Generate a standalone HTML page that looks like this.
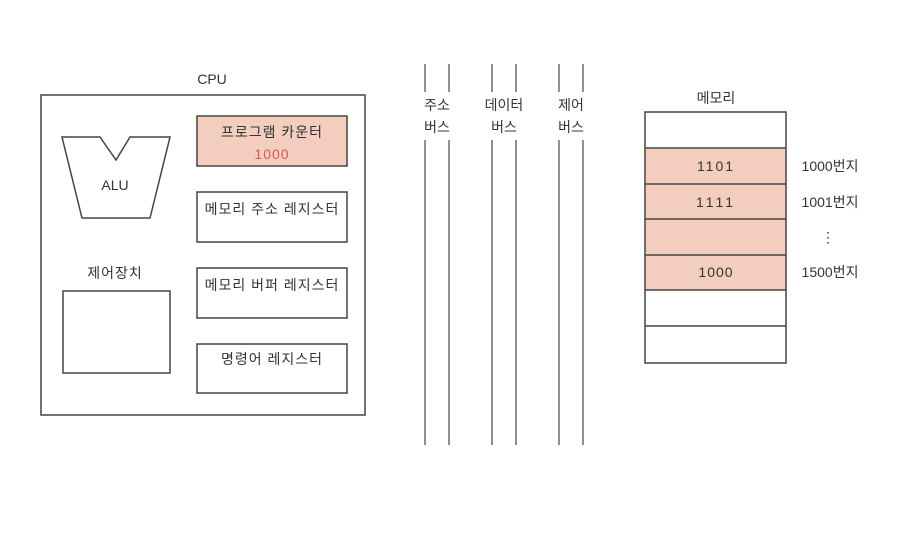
<!DOCTYPE html>
<html><head><meta charset="utf-8"><style>
body{margin:0;background:#fff;}
svg text{font-family:"Liberation Sans","Noto Sans CJK KR",sans-serif;fill:#333;}
</style></head><body>
<svg width="919" height="544" viewBox="0 0 919 544" xmlns="http://www.w3.org/2000/svg">
<g stroke="#444" stroke-width="1.5" fill="none">
<rect x="41" y="95" width="324" height="320" fill="#fff"/>
<rect x="197" y="116" width="150" height="50" fill="#f3cdbd"/>
<rect x="197" y="192" width="150" height="50"/>
<rect x="197" y="268" width="150" height="50"/>
<rect x="197" y="344" width="150" height="49"/>
<polygon points="62,137 100,137 116,160 130,137 170,137 150,218 82,218"/>
<rect x="63" y="291" width="107" height="82"/>
</g>
<g stroke="#555" stroke-width="1.3">
<line x1="425" y1="64" x2="425" y2="92"/><line x1="449" y1="64" x2="449" y2="92"/>
<line x1="492" y1="64" x2="492" y2="92"/><line x1="516" y1="64" x2="516" y2="92"/>
<line x1="559" y1="64" x2="559" y2="92"/><line x1="583" y1="64" x2="583" y2="92"/>
<line x1="425" y1="140" x2="425" y2="445"/><line x1="449" y1="140" x2="449" y2="445"/>
<line x1="492" y1="140" x2="492" y2="445"/><line x1="516" y1="140" x2="516" y2="445"/>
<line x1="559" y1="140" x2="559" y2="445"/><line x1="583" y1="140" x2="583" y2="445"/>
</g>
<rect x="645" y="148" width="141" height="142" fill="#f3cdbd"/>
<g stroke="#444" stroke-width="1.5" fill="none">
<rect x="645" y="112" width="141" height="251"/>
<line x1="645" y1="148" x2="786" y2="148"/><line x1="645" y1="184" x2="786" y2="184"/>
<line x1="645" y1="219" x2="786" y2="219"/><line x1="645" y1="255" x2="786" y2="255"/>
<line x1="645" y1="290" x2="786" y2="290"/><line x1="645" y1="326" x2="786" y2="326"/>
</g>
<g font-size="14" text-anchor="middle">
<text x="212" y="84">CPU</text>
<text x="272" y="137" letter-spacing="1">프로그램 카운터</text>
<text x="272" y="159" style="fill:#d55" letter-spacing="1">1000</text>
<text x="272" y="214" letter-spacing="1">메모리 주소 레지스터</text>
<text x="272" y="290" letter-spacing="1">메모리 버퍼 레지스터</text>
<text x="272" y="364" letter-spacing="1">명령어 레지스터</text>
<text x="115" y="190">ALU</text>
<text x="115" y="278" letter-spacing="1">제어장치</text>
<text x="437" y="110">주소</text><text x="437" y="132">버스</text>
<text x="504" y="110">데이터</text><text x="504" y="132">버스</text>
<text x="571" y="110">제어</text><text x="571" y="132">버스</text>
<text x="716" y="103">메모리</text>
<text x="716" y="171" letter-spacing="2">1101</text>
<text x="716" y="207" letter-spacing="3">1111</text>
<text x="716" y="277" letter-spacing="1">1000</text>
<text x="830" y="171">1000번지</text>
<text x="830" y="207">1001번지</text>
<text x="828" y="242">⋮</text>
<text x="830" y="277">1500번지</text>
</g>
</svg>
</body></html>
